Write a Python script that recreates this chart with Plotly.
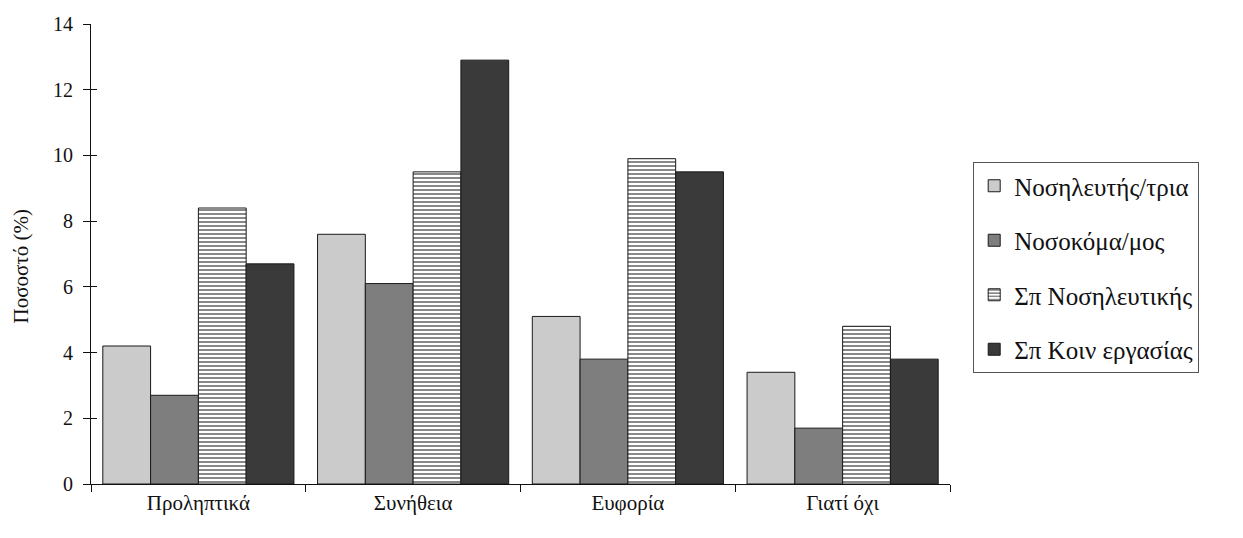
import plotly.graph_objects as go

categories = ["Προληπτικά", "Συνήθεια", "Ευφορία", "Γιατί όχι"]
series_names = ["Νοσηλευτής/τρια", "Νοσοκόμα/μος", "Σπ Νοσηλευτικής", "Σπ Κοιν εργασίας"]
nurses = [4.2, 7.6, 5.1, 3.4]
auxiliary = [2.7, 6.1, 3.8, 1.7]
nursing_students = [8.4, 9.5, 9.9, 4.8]
social_work_students = [6.7, 12.9, 9.5, 3.8]
y_ticks = [0, 2, 4, 6, 8, 10, 12, 14]

font_family = "Liberation Serif, Times New Roman, serif"

styles = [
    dict(color="#cbcbcb"),
    dict(color="#7e7e7e"),
    dict(color="#ffffff", pattern=dict(shape="-", fgcolor="#111111", bgcolor="#ffffff",
                                       size=4, solidity=0.5, fillmode="overlay")),
    dict(color="#3a3a3a"),
]

fig = go.Figure()
for i, (name, vals) in enumerate(zip(series_names,
                                     [nurses, auxiliary, nursing_students, social_work_students])):
    fig.add_trace(go.Bar(
        x=categories, y=vals, name=name, legendgroup=f"g{i}",
        marker=dict(line=dict(color="#1a1a1a", width=1), **styles[i]),
    ))

# empty trace that keeps the tick-mark overlay axis alive
fig.add_trace(go.Scatter(x=[], y=[], yaxis="y2", showlegend=False, hoverinfo="skip"))

fig.update_layout(
    width=1243, height=538,
    margin=dict(l=91, r=293, t=24, b=54),
    paper_bgcolor="white", plot_bgcolor="white",
    barmode="group", bargap=0.11, bargroupgap=0,
    font=dict(family=font_family, size=21, color="#111111"),
    legend=dict(
        x=1.027, y=0.70, xanchor="left", yanchor="top",
        bordercolor="#555555", borderwidth=1, bgcolor="white",
        font=dict(family=font_family, size=25),
        tracegroupgap=19, itemwidth=30,
    ),
    showlegend=True,
    xaxis=dict(
        showline=True, linecolor="#111111", linewidth=1,
        ticks="outside", ticklen=7, tickcolor="#111111", tickson="boundaries",
        tickfont=dict(family=font_family, size=21), showgrid=False,
    ),
    yaxis=dict(
        range=[0, 14], tickvals=y_ticks, showline=True, linecolor="#111111", linewidth=1,
        ticks="outside", ticklen=7, tickcolor="#111111", showgrid=False, zeroline=False,
        tickfont=dict(family=font_family, size=20), ticklabelstandoff=6,
    ),
    # overlay axis adds the inner half of the crossing tick marks
    yaxis2=dict(overlaying="y", anchor="x", side="left", range=[0, 14], tickvals=y_ticks,
                ticks="inside", ticklen=6, tickcolor="#111111",
                showticklabels=False, showgrid=False, zeroline=False, showline=False),
    annotations=[dict(
        text="Ποσοστό (%)", xref="paper", yref="paper", x=-0.082, y=0.472,
        textangle=-90, showarrow=False, xanchor="center", yanchor="middle",
        font=dict(family=font_family, size=21),
    )],
)

fig.write_html("out.html")
